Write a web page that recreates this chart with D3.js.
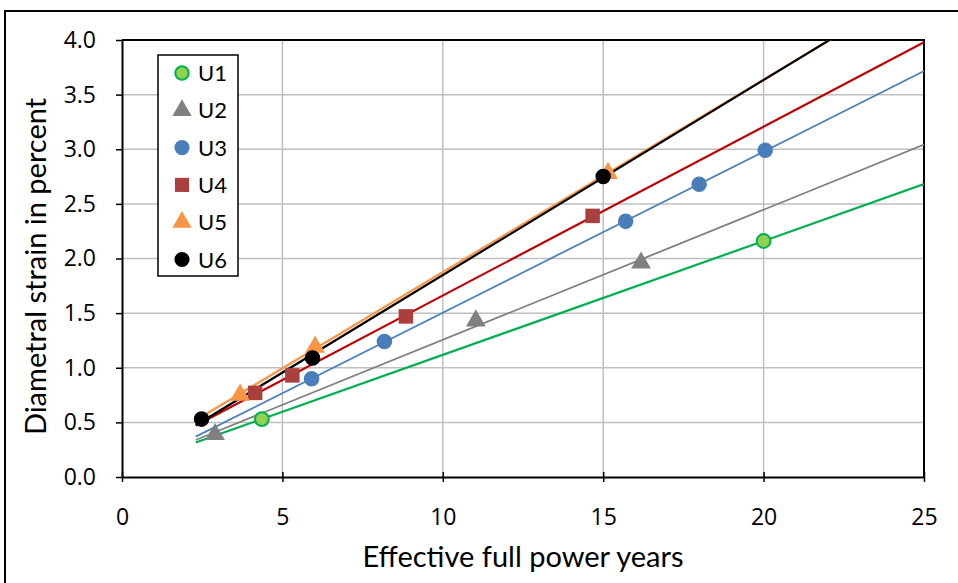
<!DOCTYPE html>
<meta charset="utf-8">
<style>
body { margin: 0; background: #fff; }
.title { font-family: Lato, "Open Sans", sans-serif; font-size: 29px; fill: #000; }
.legend text { font-family: Lato, "Open Sans", sans-serif; font-size: 22px; fill: #000; }
</style>
<body>
<script src="https://d3js.org/d3.v7.min.js"></script>
<script>

// series names
var names = ["U1", "U2", "U3", "U4", "U5", "U6"];

// effective full power years per series
var u1x = [4.36, 20.0];
var u2x = [2.9, 11.03, 16.18];
var u3x = [5.91, 8.18, 15.7, 17.99, 20.05];
var u4x = [4.15, 5.31, 8.85, 14.67];
var u5x = [3.68, 6.02, 15.15];
var u6x = [2.48, 5.94, 15.0];

// diametral strain (%) per series
var u1y = [0.53, 2.16];
var u2y = [0.39, 1.43, 1.96];
var u3y = [0.90, 1.24, 2.34, 2.68, 2.99];
var u4y = [0.77, 0.93, 1.47, 2.39];
var u5y = [0.75, 1.19, 2.78];
var u6y = [0.53, 1.09, 2.75];

var xTicks = [0, 5, 10, 15, 20, 25];
var yTicks = [0, 0.5, 1, 1.5, 2, 2.5, 3, 3.5, 4];

// trendline range (years)
var trendFrom = 2.3, trendTo = 25;

var xs = [u1x, u2x, u3x, u4x, u5x, u6x];
var ys = [u1y, u2y, u3y, u4y, u5y, u6y];

var markerFill   = ["#92d050", "#808080", "#4a7ebb", "#a9403d", "#f79646", "#000000"];
var markerStroke = ["#00b050", "#808080", "#4a7ebb", "#a9403d", "#f79646", "#000000"];
var lineColor    = ["#00b050", "#808080", "#4f81bd", "#c00000", "#f79646", "#000000"];
var shapes = [d3.symbolCircle, d3.symbolTriangle, d3.symbolCircle, d3.symbolSquare, d3.symbolTriangle, d3.symbolCircle];
var sizes = [150, 170, 190, 210, 170, 190];

var W = 958, H = 583;
var margin = {left: 122, right: 34, top: 40, bottom: 106};
var width = W - margin.left - margin.right,
    height = H - margin.top - margin.bottom;

var svg = d3.select("body").append("svg")
    .attr("width", W)
    .attr("height", H);

// outer frame
svg.append("rect")
    .attr("x", 5).attr("y", 11)
    .attr("width", W + 10).attr("height", H + 10)
    .attr("fill", "none").attr("stroke", "#000").attr("stroke-width", 2);

var x = d3.scaleLinear().domain([0, 25]).range([0, width]);
var y = d3.scaleLinear().domain([0, 4]).range([height, 0]);

var g = svg.append("g")
    .attr("transform", "translate(" + margin.left + "," + margin.top + ")");

// grid
g.selectAll(".vgrid").data(xTicks.slice(1, -1)).enter().append("line")
    .attr("x1", function(d) { return x(d); }).attr("x2", function(d) { return x(d); })
    .attr("y1", 0).attr("y2", height)
    .attr("stroke", "#bfbfbf").attr("stroke-width", 1.5);
g.selectAll(".hgrid").data(yTicks.slice(1, -1)).enter().append("line")
    .attr("x1", 0).attr("x2", width)
    .attr("y1", function(d) { return y(d); }).attr("y2", function(d) { return y(d); })
    .attr("stroke", "#bfbfbf").attr("stroke-width", 1.5);

// top/right border of plot
g.append("path")
    .attr("d", "M0,0H" + width + "V" + height)
    .attr("fill", "none").attr("stroke", "#000").attr("stroke-width", 2);

g.append("clipPath").attr("id", "clip")
  .append("rect").attr("width", width).attr("height", height);

// least squares trendlines
function fit(xv, yv) {
  var n = xv.length, mx = d3.mean(xv), my = d3.mean(yv);
  var sxy = 0, sxx = 0;
  for (var i = 0; i < n; i++) {
    sxy += (xv[i] - mx) * (yv[i] - my);
    sxx += (xv[i] - mx) * (xv[i] - mx);
  }
  var b = sxy / sxx;
  return {b: b, a: my - b * mx};
}

var lines = g.append("g").attr("clip-path", "url(#clip)");
names.forEach(function(n, i) {
  var f = fit(xs[i], ys[i]);
  lines.append("line")
      .attr("x1", x(trendFrom)).attr("y1", y(f.a + f.b * trendFrom))
      .attr("x2", x(trendTo)).attr("y2", y(f.a + f.b * trendTo))
      .attr("stroke", lineColor[i])
      .attr("stroke-width", i == 1 || i == 2 ? 1.8 : 2.2);
});

// markers
names.forEach(function(n, i) {
  var pts = xs[i].map(function(v, j) { return [v, ys[i][j]]; });
  g.selectAll(".m" + i).data(pts).enter().append("path")
      .attr("d", d3.symbol().type(shapes[i]).size(sizes[i]))
      .attr("transform", function(d) { return "translate(" + x(d[0]) + "," + y(d[1]) + ")"; })
      .attr("fill", markerFill[i])
      .attr("stroke", markerStroke[i])
      .attr("stroke-width", i == 0 ? 2 : 0);
});

// axes
var xAxis = g.append("g")
    .attr("transform", "translate(0," + height + ")")
    .call(d3.axisBottom(x).tickValues(xTicks).tickSize(5).tickSizeOuter(0).tickPadding(36)
          .tickFormat(d3.format("d")));
var yAxis = g.append("g")
    .call(d3.axisLeft(y).tickValues(yTicks).tickSize(6).tickSizeOuter(0).tickPadding(20)
          .tickFormat(d3.format(".1f")));
[xAxis, yAxis].forEach(function(a) {
  a.attr("font-size", 23).attr("font-family", "'Open Sans', Lato, sans-serif");
  a.select(".domain").attr("stroke", "#000").attr("stroke-width", 2);
  a.selectAll(".tick line").attr("stroke", "#000").attr("stroke-width", 1.5);
  a.selectAll(".tick text").attr("fill", "#000");
});
xAxis.selectAll(".tick line").attr("y1", -5);
xAxis.selectAll(".tick text").attr("dy", "0.32em");

// axis titles
svg.append("text").attr("class", "title")
    .attr("x", margin.left + width / 2).attr("y", 567)
    .attr("text-anchor", "middle")
    .text("Effective full power years");
svg.append("text").attr("class", "title")
    .attr("transform", "translate(46," + (margin.top + height / 2 + 8) + ") rotate(-90)")
    .attr("text-anchor", "middle")
    .text("Diametral strain in percent");

// legend
var leg = svg.append("g").attr("class", "legend").attr("transform", "translate(158,55)");
leg.append("rect").attr("width", 80).attr("height", 221)
    .attr("fill", "#fff").attr("stroke", "#000").attr("stroke-width", 1.5);
names.forEach(function(n, i) {
  var ly = 18 + i * 37.3;
  leg.append("path")
      .attr("d", d3.symbol().type(shapes[i]).size(sizes[i] * 0.95))
      .attr("transform", "translate(24," + ly + ")")
      .attr("fill", markerFill[i])
      .attr("stroke", markerStroke[i])
      .attr("stroke-width", i == 0 ? 2 : 0);
  leg.append("text").attr("x", 40).attr("y", ly + 8).text(n);
});

</script>
</body>
